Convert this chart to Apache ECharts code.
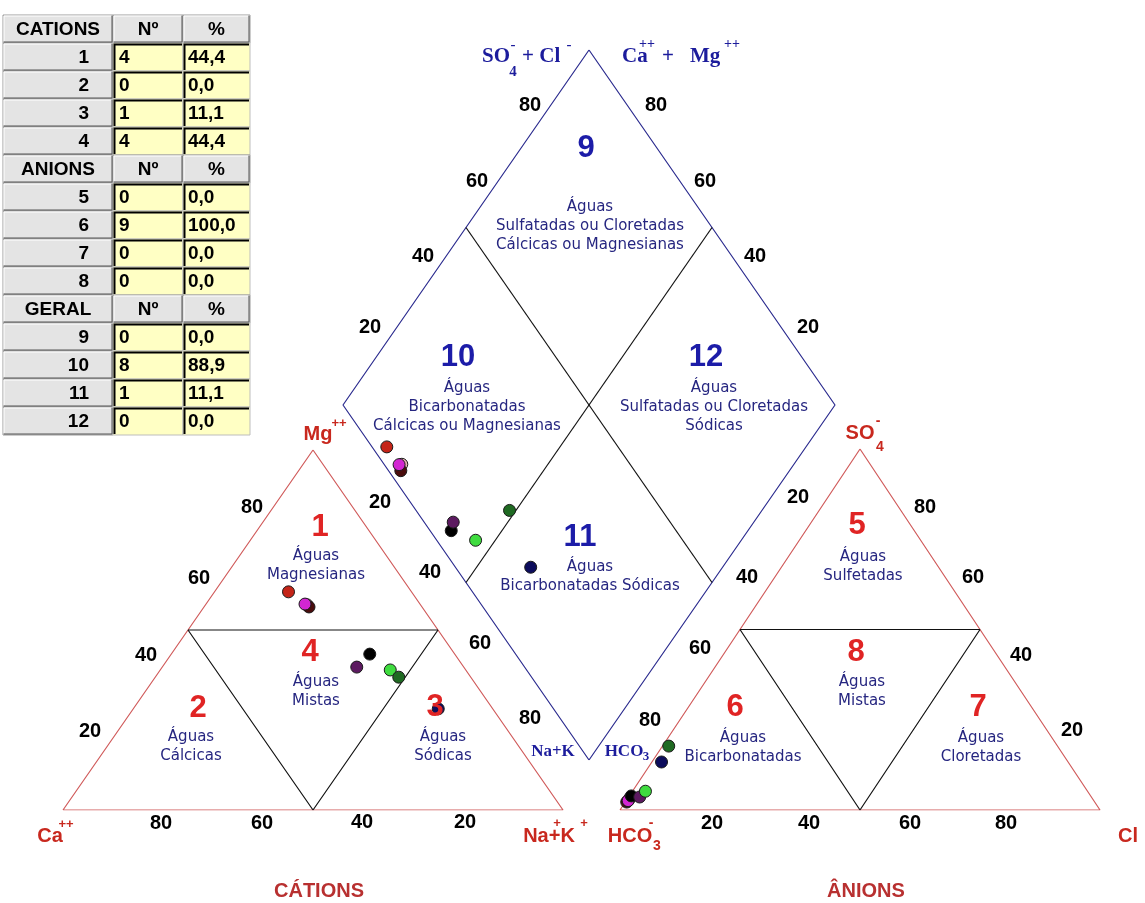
<!DOCTYPE html>
<html><head><meta charset="utf-8">
<script src="https://cdn.jsdelivr.net/npm/echarts@6/dist/echarts.min.js"></script>
<style>html,body{margin:0;padding:0;background:#fff}#c{width:1145px;height:903px}</style>
</head><body><div id="c"></div>
<script>
// ---- sample data (percent of meq) ----
const sampleColors = ['#e8b4b4','#4a0c0c','#c42418','#d226d2','#000000','#5c1a60','#3fdc3f','#1f6a22','#0c0c5c'];
const ca   = [22.7, 22.6, 24.6, 23.0, 17.0, 21.4, 15.1, 14.4, 10.9];
const mg   = [57.0, 56.4, 60.6, 57.2, 43.3, 39.7, 38.9, 36.9, 28.1];
const naK  = [20.3, 21.0, 14.8, 19.8, 39.7, 38.9, 46.0, 48.7, 61.0];
const hco3 = [96.4, 97.5, 97.0, 97.0, 95.7, 94.1, 92.1, 81.0, 84.7];
const so4  = [3.2, 2.2, 2.6, 2.6, 3.9, 3.6, 5.2, 17.7, 13.3];
const cl   = [0.4, 0.3, 0.4, 0.4, 0.4, 2.3, 2.7, 1.3, 2.0];

// ---- classification table ----
const tableHeaders = ['CATIONS','ANIONS','GERAL'];
const tableZones = [[1,2,3,4],[5,6,7,8],[9,10,11,12]];
const tableCounts = [[4,0,1,4],[0,9,0,0],[0,8,1,0]];
const tablePercents = [['44,4','0,0','11,1','44,4'],['0,0','100,0','0,0','0,0'],['0,0','88,9','11,1','0,0']];

// ---- tick labels ----
const tickLabels = ['20','40','60','80'];

const S = Math.sqrt(3)/2;
// ternary -> plane
function cat(c, m, n){ return [n + m/2, m*S]; }
function ani(h, s, c){ return [c + s/2, s*S]; }
function dia(camg, so4cl){ return [0.5*(so4cl - camg), S*(so4cl + camg)]; }

const chart = echarts.init(document.getElementById('c'), null, {renderer:'canvas'});

function lineSeries(grid, pts, color, w){
  return {type:'line', xAxisIndex:grid, yAxisIndex:grid, data:pts, symbol:'none',
    lineStyle:{color:color, width:w}, silent:true, animation:false, z:2};
}
const RED = '#d05a5a', BLK = '#111', BLU = '#2a2a8e';
const series = [];
// cation triangle
series.push(lineSeries(0,[cat(100,0,0),cat(0,0,100),cat(0,100,0),cat(100,0,0)],RED,1.2));
series.push(lineSeries(0,[cat(50,50,0),cat(0,50,50)],BLK,1.2));
series.push(lineSeries(0,[cat(50,50,0),cat(50,0,50),cat(0,50,50)],BLK,1.2));
// anion triangle
series.push(lineSeries(1,[ani(100,0,0),ani(0,0,100),ani(0,100,0),ani(100,0,0)],RED,1.2));
series.push(lineSeries(1,[ani(50,50,0),ani(0,50,50)],BLK,1.2));
series.push(lineSeries(1,[ani(50,50,0),ani(50,0,50),ani(0,50,50)],BLK,1.2));
// diamond
series.push(lineSeries(2,[dia(0,0),dia(100,0),dia(100,100),dia(0,100),dia(0,0)],BLU,1.2));
series.push(lineSeries(2,[dia(100,50),dia(0,50)],BLK,1.2));
series.push(lineSeries(2,[dia(50,100),dia(50,0)],BLK,1.2));

function pts(fn){
  return sampleColors.map((col,i)=>({value:fn(i), itemStyle:{color:col}}));
}
const scatterBase = {type:'scatter', symbol:'circle', symbolSize:12, animation:false, z:5,
  itemStyle:{borderColor:'#1a1a1a', borderWidth:1, opacity:1}};
series.push(Object.assign({}, scatterBase, {xAxisIndex:0, yAxisIndex:0, data:pts(i=>cat(ca[i],mg[i],naK[i]))}));
series.push(Object.assign({}, scatterBase, {xAxisIndex:1, yAxisIndex:1, data:pts(i=>ani(hco3[i],so4[i],cl[i]))}));
series.push(Object.assign({}, scatterBase, {xAxisIndex:2, yAxisIndex:2, data:pts(i=>dia(ca[i]+mg[i], so4[i]+cl[i]))}));

// ---- graphic texts ----
const G = [];
function T(x,y,text,size,color,opt){
  opt = opt||{};
  G.push({type:'text', x:x, y:y, z:100, silent:true, style:{
    text:text, fill:color, fontSize:size, fontWeight:opt.w||'bold',
    fontFamily:opt.f||'"Liberation Sans", Arial, sans-serif',
    align:opt.a||'center', verticalAlign:opt.v||'middle', textAlign:opt.a||'center', textVerticalAlign:opt.v||'middle',
    lineHeight:opt.lh||size
  }});
}
const TICK = 20;
// left triangle, left edge
[[90,731],[146,655],[199,578],[252,507]].forEach((p,i)=>T(p[0],p[1],tickLabels[i],TICK,'#000'));
// left triangle bottom (80..20 from left)
[[465,822],[362,822],[262,823],[161,823]].forEach((p,i)=>T(p[0],p[1],tickLabels[i],TICK,'#000'));
// between left triangle and diamond
[[380,502],[430,572],[480,643],[530,718]].forEach((p,i)=>T(p[0],p[1],tickLabels[i],TICK,'#000'));
// between diamond and right triangle
[[798,497],[747,577],[700,648],[650,720]].forEach((p,i)=>T(p[0],p[1],tickLabels[i],TICK,'#000'));
// right triangle right edge
[[1072,730],[1021,655],[973,577],[925,507]].forEach((p,i)=>T(p[0],p[1],tickLabels[i],TICK,'#000'));
// right triangle bottom
[[712,823],[809,823],[910,823],[1006,823]].forEach((p,i)=>T(p[0],p[1],tickLabels[i],TICK,'#000'));
// diamond upper edges
[[370,327],[423,256],[477,181],[530,105]].forEach((p,i)=>T(p[0],p[1],tickLabels[i],TICK,'#000'));
[[808,327],[755,256],[705,181],[656,105]].forEach((p,i)=>T(p[0],p[1],tickLabels[i],TICK,'#000'));

// region numbers
const NR = '#e02424', NB = '#1c1ca8';
[['1',320,527],['2',198,708],['3',435,707],['4',310,652],['5',857,525],['6',735,707],['7',978,707],['8',856,652]]
  .forEach(d=>T(d[1],d[2],d[0],31,NR));
[['9',586,148],['10',458,357],['11',580,537],['12',706,357]].forEach(d=>T(d[1],d[2],d[0],31,NB));

// descriptions
const DC = '#262680';
function D(x,y,lines){ lines.forEach((l,i)=>T(x,y+i*19,l,15,DC,{w:'normal',f:'"DejaVu Sans", sans-serif'})); }
D(316,556,['Águas','Magnesianas']);
D(191,737,['Águas','Cálcicas']);
D(316,682,['Águas','Mistas']);
D(443,737,['Águas','Sódicas']);
D(863,557,['Águas','Sulfetadas']);
D(862,682,['Águas','Mistas']);
D(743,738,['Águas','Bicarbonatadas']);
D(981,738,['Águas','Cloretadas']);
D(590,207,['Águas','Sulfatadas ou Cloretadas','Cálcicas ou Magnesianas']);
D(467,388,['Águas','Bicarbonatadas','Cálcicas ou Magnesianas']);
D(714,388,['Águas','Sulfatadas ou Cloretadas','Sódicas']);
D(590,567,['Águas','Bicarbonatadas Sódicas']);

// vertex labels
const VR = '#c8281e';
T(50,836,'Ca',20,VR); T(66,824,'++',13,VR);
T(318,434,'Mg',20,VR); T(339,423,'++',13,VR);
T(549,836,'Na+K',20,VR); T(557,823,'+',13,VR); T(584,823,'+',13,VR);
T(630,836,'HCO',20,VR); T(657,846,'3',14,VR); T(651,823,'-',14,VR);
T(860,433,'SO',20,VR); T(880,447,'4',14,VR); T(878,421,'-',14,VR);
T(1128,836,'Cl',20,VR);
T(319,891,'CÁTIONS',20,'#b83030');
T(866,891,'ÂNIONS',20,'#b83030');

// diamond labels (serif blue)
const SB = '#1c1c9c', SF = '"Liberation Serif", "Times New Roman", serif';
T(482,57,'SO',21,SB,{f:SF,a:'left'}); T(513,72,'4',15,SB,{f:SF}); T(513,45,'-',15,SB,{f:SF});
T(522,57,'+ Cl',21,SB,{f:SF,a:'left'}); T(569,45,'-',15,SB,{f:SF});
T(622,57,'Ca',21,SB,{f:SF,a:'left'}); T(647,44,'++',14,SB,{f:SF});
T(668,57,'+',21,SB,{f:SF}); T(690,57,'Mg',21,SB,{f:SF,a:'left'}); T(732,44,'++',14,SB,{f:SF});
T(553,752,'Na+K',17,SB,{f:SF});
T(624,752,'HCO',17,SB,{f:SF}); T(646,757,'3',13,SB,{f:SF});

// table
const TX = [3,113,183,250], TTOP = 15, RH = 28;
function cell(x0,x1,y0,kind){
  const w=x1-x0, h=RH;
  if(kind==='gray'){
    G.push({type:'rect', z:50, silent:true, shape:{x:x0,y:y0,width:w,height:h}, style:{fill:'#e4e4e4', stroke:'#9a9a9a', lineWidth:1}});
    G.push({type:'polyline', z:51, silent:true, shape:{points:[[x0+1,y0+h-2],[x0+1,y0+1],[x1-2,y0+1]]}, style:{stroke:'#fff', lineWidth:1, fill:null}});
    G.push({type:'polyline', z:51, silent:true, shape:{points:[[x0+1,y0+h-1],[x1-1,y0+h-1],[x1-1,y0+1]]}, style:{stroke:'#555', lineWidth:1, fill:null}});
  } else {
    G.push({type:'rect', z:50, silent:true, shape:{x:x0,y:y0,width:w,height:h}, style:{fill:'#ffffc4', stroke:'#bdbdbd', lineWidth:1}});
    G.push({type:'polyline', z:51, silent:true, shape:{points:[[x0+1.5,y0+h-1],[x0+1.5,y0+1.5],[x1-1,y0+1.5]]}, style:{stroke:'#000', lineWidth:2, fill:null}});
  }
}
function TT(x,y,text,a){
  G.push({type:'text', x:x, y:y, z:60, silent:true, style:{text:text, fill:'#000', fontSize:19, fontWeight:'bold',
    fontFamily:'"Liberation Sans", Arial, sans-serif', align:a, verticalAlign:'middle', textAlign:a, textVerticalAlign:'middle'}});
}
let r = 0;
tableHeaders.forEach((hdr,g)=>{
  let y0 = TTOP + r*RH;
  cell(TX[0],TX[1],y0,'gray'); cell(TX[1],TX[2],y0,'gray'); cell(TX[2],TX[3],y0,'gray');
  TT((TX[0]+TX[1])/2, y0+RH/2+1, hdr, 'center');
  TT((TX[1]+TX[2])/2, y0+RH/2+1, 'Nº', 'center');
  TT((TX[2]+TX[3])/2, y0+RH/2+1, '%', 'center');
  r++;
  tableZones[g].forEach((z,k)=>{
    y0 = TTOP + r*RH;
    cell(TX[0],TX[1],y0,'gray'); cell(TX[1],TX[2],y0,'yellow'); cell(TX[2],TX[3],y0,'yellow');
    TT(89, y0+RH/2+1, String(z), 'right');
    TT(TX[1]+6, y0+RH/2+1, String(tableCounts[g][k]), 'left');
    TT(TX[2]+5, y0+RH/2+1, tablePercents[g][k], 'left');
    r++;
  });
});

chart.setOption({
  animation:false,
  backgroundColor:'#fff',
  grid:[
    {left:63, top:450, width:500, height:360},
    {left:620, top:449, width:480, height:361},
    {left:343, top:50, width:492, height:710}
  ],
  xAxis:[
    {type:'value', gridIndex:0, min:0, max:100, show:false},
    {type:'value', gridIndex:1, min:0, max:100, show:false},
    {type:'value', gridIndex:2, min:-50, max:50, show:false}
  ],
  yAxis:[
    {type:'value', gridIndex:0, min:0, max:100*S, show:false},
    {type:'value', gridIndex:1, min:0, max:100*S, show:false},
    {type:'value', gridIndex:2, min:0, max:200*S, show:false}
  ],
  series:series,
  graphic:G
});
</script>
</body></html>
